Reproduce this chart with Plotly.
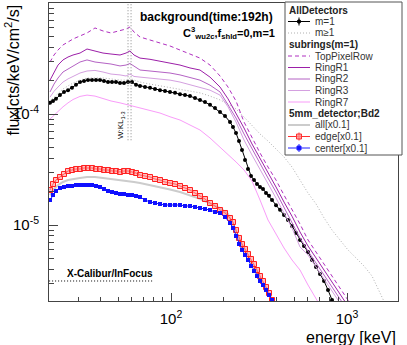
import plotly.graph_objects as go

FONT = "Liberation Sans, Arial, sans-serif"

# ---- data (energy in keV, flux in cts/keV/cm2/s) ----
e_ring = [20.54, 21.64, 22.80, 24.34, 25.99, 27.75, 30.41, 33.32, 37.00, 41.08,
          45.61, 51.31, 55.50, 58.49, 61.63, 66.66, 75.98, 86.60, 98.70, 112.5,
          128.2, 146.1, 166.6, 189.9, 210.8, 234.1, 259.9, 288.6, 320.4, 355.7,
          395.0, 438.6, 487.0, 540.7, 600.4, 666.7, 740.2, 821.8, 912.5, 1013,
          1125, 1249, 1387, 1540, 1710]

top_pixel_row = [2.94e-4, 3.40e-4, 3.77e-4, 4.19e-4, 4.45e-4, 4.74e-4, 5.05e-4, 5.37e-4, 5.96e-4, 5.60e-4,
                 5.37e-4, 5.60e-4, 5.83e-4, 6.08e-4, 5.48e-4, 4.94e-4, 4.64e-4, 4.36e-4, 4.10e-4, 3.77e-4,
                 3.47e-4, 3.19e-4, 2.76e-4, 2.20e-4, 1.75e-4, 1.31e-4, 8.47e-5, 6.08e-5, 4.46e-5, 3.33e-5,
                 2.54e-5, 1.86e-5, 1.39e-5, 1.02e-5, 7.33e-6, 5.71e-6, 4.46e-6, 3.47e-6, 2.71e-6, 2.11e-6,
                 1.64e-6]
ring_r1 = [2.02e-4, 2.39e-4, 2.76e-4, 3.07e-4, 3.26e-4, 3.40e-4, 3.54e-4, 3.85e-4, 3.70e-4, 3.54e-4,
           3.47e-4, 3.40e-4, 3.54e-4, 3.70e-4, 3.40e-4, 3.19e-4, 3.11e-4, 3.00e-4, 2.88e-4, 2.76e-4,
           2.60e-4, 2.49e-4, 2.15e-4, 1.75e-4, 1.37e-4, 1.02e-4, 7.48e-5, 5.37e-5, 4.02e-5, 2.94e-5,
           2.20e-5, 1.61e-5, 1.20e-5, 8.65e-6, 6.47e-6, 5.05e-6, 3.93e-6, 3.07e-6, 2.39e-6, 1.86e-6]
ring_r2 = [1.58e-4, 1.86e-4, 2.11e-4, 2.39e-4, 2.54e-4, 2.71e-4, 2.94e-4, 3.07e-4, 2.94e-4, 2.88e-4,
           2.82e-4, 2.71e-4, 2.76e-4, 2.85e-4, 2.71e-4, 2.49e-4, 2.44e-4, 2.39e-4, 2.34e-4, 2.25e-4,
           2.13e-4, 2.02e-4, 1.82e-4, 1.58e-4, 1.21e-4, 9.20e-5, 6.61e-5, 4.84e-5, 3.54e-5, 2.65e-5,
           1.98e-5, 1.45e-5, 1.06e-5, 7.64e-6, 5.83e-6, 4.55e-6, 3.54e-6, 2.76e-6, 2.16e-6, 1.68e-6]
ring_r3 = [1.42e-4, 1.60e-4, 1.75e-4, 1.94e-4, 2.07e-4, 2.18e-4, 2.34e-4, 2.44e-4, 2.47e-4, 2.39e-4,
           2.29e-4, 2.25e-4, 2.20e-4, 2.29e-4, 2.18e-4, 2.15e-4, 2.11e-4, 2.07e-4, 2.02e-4, 1.94e-4,
           1.84e-4, 1.75e-4, 1.64e-4, 1.48e-4, 1.16e-4, 8.47e-5, 5.83e-5, 4.27e-5, 3.19e-5, 2.34e-5,
           1.75e-5, 1.28e-5, 9.40e-6, 6.34e-6, 5.37e-6, 4.19e-6, 3.26e-6, 2.54e-6, 1.98e-6]
ring_r7 = [9.01e-5, 9.79e-5, 1.06e-4, 1.16e-4, 1.26e-4, 1.35e-4, 1.44e-4, 1.48e-4, 1.45e-4, 1.37e-4,
           1.31e-4, 1.26e-4, 1.22e-4, 1.19e-4, 1.17e-4, 1.13e-4, 1.08e-4, 1.02e-4, 9.44e-5, 8.83e-5,
           7.96e-5, 7.18e-5, 6.08e-5, 5.05e-5, 4.27e-5, 3.70e-5, 3.13e-5, 2.49e-5, 1.68e-5, 1.11e-5,
           8.30e-6, 6.21e-6, 4.84e-6, 3.93e-6, 2.88e-6, 2.20e-6, 1.64e-6]
m_ge1 = [1.31e-4, 1.42e-4, 1.55e-4, 1.68e-4, 1.79e-4, 1.90e-4, 2.02e-4, 2.11e-4, 2.11e-4, 2.11e-4,
         2.07e-4, 2.02e-4, 2.02e-4, 2.11e-4, 2.02e-4, 1.94e-4, 1.86e-4, 1.79e-4, 1.75e-4, 1.68e-4,
         1.61e-4, 1.55e-4, 1.45e-4, 1.34e-4, 1.23e-4, 1.11e-4, 9.40e-5, 7.80e-5, 6.61e-5, 5.71e-5,
         4.84e-5, 4.10e-5, 3.33e-5, 2.54e-5, 1.94e-5, 1.55e-5, 1.16e-5, 9.01e-6, 7.33e-6, 5.96e-6,
         5.05e-6, 4.27e-6, 3.47e-6, 2.49e-6, 1.72e-6]
bd2_all = [1.86e-5, 2.11e-5, 2.29e-5, 2.44e-5, 2.54e-5, 2.60e-5, 2.65e-5, 2.71e-5, 2.71e-5, 2.65e-5,
           2.60e-5, 2.54e-5, 2.52e-5, 2.49e-5, 2.44e-5, 2.39e-5, 2.29e-5, 2.20e-5, 2.09e-5, 1.98e-5,
           1.84e-5, 1.72e-5, 1.56e-5, 1.42e-5, 1.26e-5, 8.47e-6, 5.96e-6, 4.46e-6, 3.33e-6, 2.49e-6,
           1.86e-6]

# finer bins where markers are drawn
e_bd2 = [20.54, 21.36, 22.21, 23.40, 24.66, 25.99, 27.38, 28.86, 30.41, 32.04,
         33.76, 35.57, 37.49, 39.50, 41.62, 43.86, 46.21, 48.70, 51.31, 54.07,
         56.97, 60.04, 63.26, 66.66, 71.16, 75.98, 81.11, 86.60, 92.45, 98.70,
         105.4, 112.5, 120.1, 128.2, 136.9, 146.1, 156.0, 166.6, 177.8, 189.9,
         202.7, 216.4, 225.0, 234.1, 243.4, 253.2, 263.3, 273.8, 284.8, 296.2,
         308.1, 320.4, 333.2, 346.6, 360.4, 374.9]
e_m1_tail = [395.0, 416.2, 438.6, 462.2, 487.0, 513.1, 540.7, 569.8, 600.4, 632.6,
             666.7, 702.4, 740.2, 780.0, 821.8, 865.9]

bd2_edge = [2.067e-5, 2.341e-5, 2.543e-5, 2.707e-5, 2.881e-5, 3.066e-5, 3.130e-5, 3.196e-5, 3.196e-5, 3.263e-5,
            3.263e-5, 3.263e-5, 3.196e-5, 3.196e-5, 3.130e-5, 3.130e-5, 3.066e-5, 3.066e-5, 3.003e-5, 3.066e-5,
            3.066e-5, 3.003e-5, 2.941e-5, 2.822e-5, 2.764e-5, 2.707e-5, 2.597e-5, 2.543e-5, 2.440e-5, 2.390e-5,
            2.341e-5, 2.246e-5, 2.154e-5, 2.067e-5, 1.942e-5, 1.825e-5, 1.715e-5, 1.578e-5, 1.483e-5, 1.365e-5,
            1.283e-5, 1.156e-5, 1.064e-5, 9.02e-6, 7.64e-6, 6.74e-6, 6.08e-6, 5.48e-6, 4.94e-6, 4.45e-6,
            3.93e-6, 3.47e-6, 3.13e-6, 2.76e-6, 2.44e-6, 2.11e-6]
bd2_center = [1.680e-5, 1.863e-5, 2.024e-5, 2.154e-5, 2.200e-5, 2.246e-5, 2.246e-5, 2.293e-5, 2.293e-5, 2.293e-5,
              2.293e-5, 2.293e-5, 2.246e-5, 2.200e-5, 2.110e-5, 2.024e-5, 1.983e-5, 1.942e-5, 1.902e-5, 1.902e-5,
              1.863e-5, 1.863e-5, 1.825e-5, 1.788e-5, 1.680e-5, 1.612e-5, 1.578e-5, 1.546e-5, 1.514e-5, 1.514e-5,
              1.514e-5, 1.514e-5, 1.483e-5, 1.483e-5, 1.453e-5, 1.423e-5, 1.394e-5, 1.365e-5, 1.310e-5, 1.283e-5,
              1.181e-5, 1.042e-5, 9.40e-6, 7.96e-6, 6.74e-6, 5.96e-6, 5.37e-6, 4.84e-6, 4.27e-6, 3.85e-6,
              3.47e-6, 3.13e-6, 2.88e-6, 2.60e-6, 2.34e-6, 2.11e-6]
m1_all = [1.26e-4, 1.31e-4, 1.37e-4, 1.48e-4, 1.58e-4, 1.64e-4, 1.72e-4, 1.83e-4, 1.94e-4, 1.98e-4,
          2.02e-4, 2.02e-4, 2.02e-4, 2.02e-4, 1.98e-4, 1.94e-4, 1.94e-4, 1.94e-4, 1.90e-4, 1.90e-4,
          1.94e-4, 1.94e-4, 1.83e-4, 1.79e-4, 1.75e-4, 1.72e-4, 1.68e-4, 1.64e-4, 1.61e-4, 1.58e-4,
          1.55e-4, 1.51e-4, 1.48e-4, 1.45e-4, 1.39e-4, 1.34e-4, 1.28e-4, 1.21e-4, 1.13e-4, 1.04e-4,
          9.59e-5, 8.47e-5, 7.64e-5, 6.74e-5, 5.71e-5, 4.74e-5, 3.85e-5, 3.20e-5, 2.76e-5, 2.54e-5,
          2.34e-5, 2.20e-5, 2.11e-5, 1.94e-5, 1.83e-5, 1.68e-5,
          1.51e-5, 1.37e-5, 1.23e-5, 1.11e-5, 9.79e-6, 8.47e-6, 7.33e-6, 6.47e-6, 5.71e-6, 4.84e-6,
          4.19e-6, 3.62e-6, 3.13e-6, 2.60e-6, 2.11e-6, 1.72e-6]

# W K-alpha lines and the X-Calibur level
w_lines = [57.0, 59.3]
w_line_flux = [5.8e-5, 1.0e-3]
xcal_energy = [20.3, 80.0]
xcal_flux = [3.13e-6, 3.13e-6]

# tick labels
x_ticks = [100, 1000]
x_ticktext = ["10<sup>2</sup>", "10<sup>3</sup>"]
y_ticks = [1e-5, 1e-4, 1e-3]
y_ticktext = ["10<sup>-5</sup>", "10<sup>-4</sup>", "10<sup>-3</sup>"]

# ---- frame geometry (pixels of the 407x345 canvas) ----
W, H = 407, 345
L, R, T, B = 49, 398, 3, 301

DASH = "4px,3px"
DOT = "1px,2px"


def px(x):
    return (x - L) / (R - L)


def py(y):
    return (B - y) / (B - T)


fig = go.Figure()

fig.add_trace(go.Scatter(x=e_bd2 + e_m1_tail, y=m1_all, mode="lines+markers",
                         line=dict(color="black", width=1),
                         marker=dict(color="black", size=4)))
fig.add_trace(go.Scatter(x=e_ring[:len(m_ge1)], y=m_ge1, mode="lines",
                         line=dict(color="#b0b0b0", width=1, dash=DOT)))
fig.add_trace(go.Scatter(x=e_ring[:len(top_pixel_row)], y=top_pixel_row, mode="lines",
                         line=dict(color="#b030c0", width=1, dash=DASH)))
fig.add_trace(go.Scatter(x=e_ring[:len(ring_r1)], y=ring_r1, mode="lines",
                         line=dict(color="#9c1fa8", width=1)))
fig.add_trace(go.Scatter(x=e_ring[:len(ring_r2)], y=ring_r2, mode="lines",
                         line=dict(color="#b462c4", width=1)))
fig.add_trace(go.Scatter(x=e_ring[:len(ring_r3)], y=ring_r3, mode="lines",
                         line=dict(color="#d4a0e0", width=1)))
fig.add_trace(go.Scatter(x=e_ring[:len(ring_r7)], y=ring_r7, mode="lines",
                         line=dict(color="#f99cf9", width=1)))
fig.add_trace(go.Scatter(x=e_ring[:len(bd2_all)], y=bd2_all, mode="lines",
                         line=dict(color="#cccccc", width=2)))
fig.add_trace(go.Scatter(x=e_bd2, y=bd2_edge, mode="lines+markers",
                         line=dict(color="#ff3030", width=1),
                         marker=dict(symbol="square", size=5, color="rgba(255,140,140,0.55)",
                                     line=dict(color="#ff2020", width=1))))
fig.add_trace(go.Scatter(x=e_bd2, y=bd2_center, mode="lines+markers",
                         line=dict(color="#2020ff", width=1),
                         marker=dict(symbol="square", size=4, color="#1010ff")))

for w in w_lines:
    fig.add_trace(go.Scatter(x=[w, w], y=w_line_flux, mode="lines",
                             line=dict(color="#888888", width=1, dash=DOT)))
fig.add_trace(go.Scatter(x=xcal_energy, y=xcal_flux, mode="lines",
                         line=dict(color="black", width=1, dash=DOT)))

# ---- hand-made legend (ROOT style, tight rows) ----
shapes = [dict(type="rect", xref="paper", yref="paper", layer="above",
               x0=px(285), x1=px(402), y0=py(155), y1=py(2),
               fillcolor="white", line=dict(color="#555555", width=1))]
annotations = []

rows = [
    ("AllDetectors", None),
    ("m=1", dict(color="black", dash="solid", mark="dot")),
    ("m\u22651", dict(color="#b0b0b0", dash=DOT)),
    ("subrings(m=1)", None),
    ("TopPixelRow", dict(color="#b030c0", dash=DASH)),
    ("RingR1", dict(color="#9c1fa8", dash="solid")),
    ("RingR2", dict(color="#b462c4", dash="solid")),
    ("RingR3", dict(color="#d4a0e0", dash="solid")),
    ("RingR7", dict(color="#f99cf9", dash="solid")),
    ("5mm_detector;Bd2", None),
    ("all[x0.1]", dict(color="#cccccc", dash="solid", width=2)),
    ("edge[x0.1]", dict(color="#ff3030", dash="solid", mark="sq", fill="rgba(255,140,140,0.8)", size=5)),
    ("center[x0.1]", dict(color="#2020ff", dash="solid", mark="sq", fill="#1010ff", size=4)),
]

for i, (label, sty) in enumerate(rows):
    ry = 10 + 11.5 * i
    if sty is None:
        annotations.append(dict(xref="paper", yref="paper", x=px(287), y=py(ry),
                                xanchor="left", yanchor="middle", showarrow=False,
                                text="<b>" + label + "</b>",
                                font=dict(family=FONT, size=10, color="#222222")))
        continue
    shapes.append(dict(type="line", xref="paper", yref="paper", layer="above",
                       x0=px(288), x1=px(310), y0=py(ry), y1=py(ry),
                       line=dict(color=sty["color"], width=sty.get("width", 1), dash=sty["dash"])))
    if "mark" in sty:
        shapes.append(dict(type="line", xref="paper", yref="paper", layer="above",
                           x0=px(299), x1=px(299), y0=py(ry - 4), y1=py(ry + 4),
                           line=dict(color=sty["color"], width=1)))
        if sty["mark"] == "dot":
            shapes.append(dict(type="circle", xref="paper", yref="paper", layer="above",
                               x0=px(297.3), x1=px(300.7), y0=py(ry - 1.7), y1=py(ry + 1.7),
                               fillcolor="black", line=dict(color="black", width=1)))
        else:
            h = sty["size"] / 2
            shapes.append(dict(type="rect", xref="paper", yref="paper", layer="above",
                               x0=px(299 - h), x1=px(299 + h), y0=py(ry - h), y1=py(ry + h),
                               fillcolor=sty["fill"], line=dict(color=sty["color"], width=1)))
    annotations.append(dict(xref="paper", yref="paper", x=px(313), y=py(ry),
                            xanchor="left", yanchor="middle", showarrow=False,
                            text=label, font=dict(family=FONT, size=10, color="#333333")))

# ---- texts ----
annotations += [
    dict(xref="paper", yref="paper", x=px(206), y=py(17), showarrow=False,
         xanchor="center", yanchor="middle", text="<b>background(time:192h)</b>",
         font=dict(family=FONT, size=12, color="black")),
    dict(xref="paper", yref="paper", x=px(277), y=py(33), showarrow=False,
         xanchor="right", yanchor="middle",
         text="<b>C<sup>3</sup><sub>wu2c</sub>,f<sub>shld</sub>=0,m=1</b>",
         font=dict(family=FONT, size=11, color="black")),
    dict(xref="paper", yref="paper", x=px(121), y=py(125), showarrow=False,
         xanchor="center", yanchor="middle", textangle=-90,
         text="W:KL<sub>1-3</sub>", font=dict(family=FONT, size=8, color="black")),
    dict(xref="paper", yref="paper", x=px(65), y=py(273), showarrow=False,
         xanchor="left", yanchor="middle", text="<b>X-Calibur/InFocus</b>",
         font=dict(family=FONT, size=10, color="black")),
    dict(xref="paper", yref="paper", x=px(12), y=py(3), showarrow=False,
         xanchor="center", yanchor="top", textangle=-90,
         text="flux[cts/keV/cm<sup>2</sup>/s]", font=dict(family=FONT, size=16, color="black")),
    dict(xref="paper", yref="paper", x=px(398), y=py(337), showarrow=False,
         xanchor="right", yanchor="middle", text="energy [keV]",
         font=dict(family=FONT, size=16, color="black")),
]

x_minor = [v * 10 ** k for k in (1, 2, 3) for v in range(2, 10)]
y_minor = [v * 10.0 ** k for k in (-6, -5, -4) for v in range(2, 10)]

fig.update_layout(
    width=W, height=H,
    margin=dict(l=L, r=W - R, t=T, b=H - B),
    paper_bgcolor="white", plot_bgcolor="white",
    showlegend=False,
    shapes=shapes, annotations=annotations,
    font=dict(family=FONT, size=15, color="black"),
    xaxis=dict(type="log", range=[1.30682, 3.28977], showgrid=False, zeroline=False,
               automargin=False,
               showline=True, linecolor="#444444", linewidth=1, mirror=True,
               ticks="inside", ticklen=8, tickcolor="#444444",
               tickmode="array", tickvals=x_ticks, ticktext=x_ticktext,
               ticklabelstandoff=4,
               minor=dict(ticks="inside", ticklen=4, tickcolor="#444444",
                          tickmode="array", tickvals=x_minor)),
    yaxis=dict(type="log", range=[-5.6847, -3.0], showgrid=False, zeroline=False,
               automargin=False,
               showline=True, linecolor="#444444", linewidth=1, mirror=True,
               ticks="inside", ticklen=9, tickcolor="#444444",
               tickmode="array", tickvals=y_ticks, ticktext=y_ticktext,
               ticklabelstandoff=6,
               minor=dict(ticks="inside", ticklen=5, tickcolor="#444444",
                          tickmode="array", tickvals=y_minor)),
)

fig.write_html("out.html", config={"displayModeBar": False},
               post_script="document.body.style.margin='0';")
